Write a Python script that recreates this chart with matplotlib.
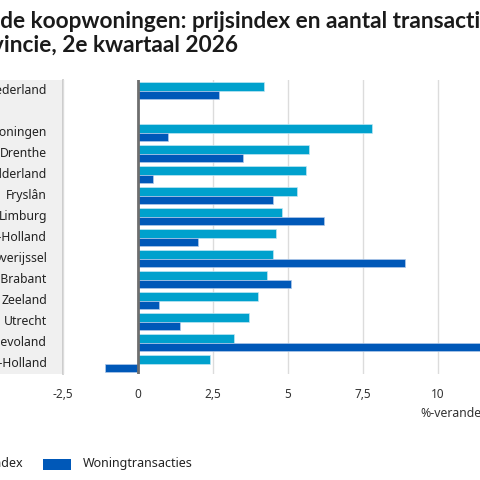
import matplotlib.pyplot as plt
from matplotlib.patches import Rectangle

plt.rcParams['font.family'] = ['Noto Sans', 'DejaVu Sans']

# data (Flevoland transacties runs off the right edge)
regios = ['Nederland', '', 'Groningen', 'Drenthe', 'Gelderland', 'Fryslân', 'Limburg',
          'Noord-Holland', 'Overijssel', 'Noord-Brabant', 'Zeeland', 'Utrecht',
          'Flevoland', 'Zuid-Holland']
prijsindex = [4.2, None, 7.8, 5.7, 5.6, 5.3, 4.8, 4.6, 4.5, 4.3, 4.0, 3.7, 3.2, 2.4]
transacties = [2.7, None, 1.0, 3.5, 0.5, 4.5, 6.2, 2.0, 8.9, 5.1, 0.7, 1.4, 12.5, -1.1]
xticks = [-2.5, 0, 2.5, 5, 7.5, 10]
xticklabels = ['-2,5', '0', '2,5', '5', '7,5', '10']
titel1 = 'Bestaande koopwoningen: prijsindex en aantal transacties,'
titel2 = 'per provincie, 2e kwartaal 2026'

licht = '#00a1cd'
donker = '#0058b8'
W, H = 480, 480

fig = plt.figure(figsize=(4.8, 4.8), dpi=100)

# grey label panel on the left
fig.patches.append(Rectangle((0, 1 - 374 / H), 62 / W, 294 / H, transform=fig.transFigure,
                             facecolor='#f0f0f0', edgecolor='none', zorder=-1))
fig.lines.append(plt.Line2D([62.5 / W, 62.5 / W], [1 - 374 / H, 1 - 80 / H],
                            transform=fig.transFigure, color='#c4c4c4', lw=1.2, zorder=-1))

# axes: -2.5 at x=63px, 0 at 138px, 30 px per unit
xmin, xmax = -2.5, 12.5
left = 63
right = 138 + xmax * 30
ax = fig.add_axes([left / W, 1 - 374 / H, (right - left) / W, 294 / H])
ax.set_xlim(xmin, xmax)
ax.set_ylim(len(regios) - 0.5, -0.5)
ax.patch.set_alpha(0)

pos = list(range(len(regios)))
for i in pos:
    if prijsindex[i] is not None:
        ax.barh(i - 0.2, prijsindex[i], height=0.4, color=licht, edgecolor='#bfe6f2', lw=0.5, zorder=3)
        ax.barh(i + 0.2, transacties[i], height=0.4, color=donker, edgecolor='#b0c8e8', lw=0.5, zorder=3)

for x in xticks:
    if x != 0:
        ax.axvline(x, color='#dcdcdc', lw=1, zorder=1)
ax.axvline(0, color='#6e6e6e', lw=2, zorder=4)

for s in ax.spines.values():
    s.set_visible(False)
ax.set_yticks([])
ax.set_xticks(xticks)
ax.set_xticklabels(xticklabels)
ax.tick_params(axis='x', length=0, pad=10, labelsize=8.5, labelcolor='#333333')

# category labels in the grey panel
for i, r in enumerate(regios):
    ax.text(-2.5 - 16 / 30, i, r, ha='right', va='center', fontsize=8.8, color='#222222',
            clip_on=False)

fig.text(420 / W, 1 - 414 / H, '%-verandering', ha='left', va='center', fontsize=8.8,
         color='#333333')

# title: shift so that "de koop..." / "vincie" start at the left edge
r = fig.canvas.get_renderer()
tfont = dict(family=['Lato', 'DejaVu Sans'], fontsize=16.3, fontweight='bold', color='#1a1a1a')
p1 = fig.text(0, 0, 'Bestaan', **tfont)
shift = p1.get_window_extent(r).width
p1.remove()
fig.text(-shift / W, 1 - 22 / H, titel1, ha='left', va='center', **tfont)
fig.text(-shift / W, 1 - 46 / H, titel2, ha='left', va='center', **tfont)

# legend
fig.patches.append(Rectangle((-45 / W, 1 - 470 / H), 28 / W, 11 / H, transform=fig.transFigure,
                             facecolor=licht, edgecolor='none'))
fig.text(-34 / W, 1 - 464 / H, 'Prijsindex', ha='left', va='center', fontsize=9, color='#222222')
fig.patches.append(Rectangle((43 / W, 1 - 470 / H), 28 / W, 11 / H, transform=fig.transFigure,
                             facecolor=donker, edgecolor='none'))
fig.text(83 / W, 1 - 464 / H, 'Woningtransacties', ha='left', va='center', fontsize=9,
         color='#222222')

fig.savefig('out.png', dpi=100)
